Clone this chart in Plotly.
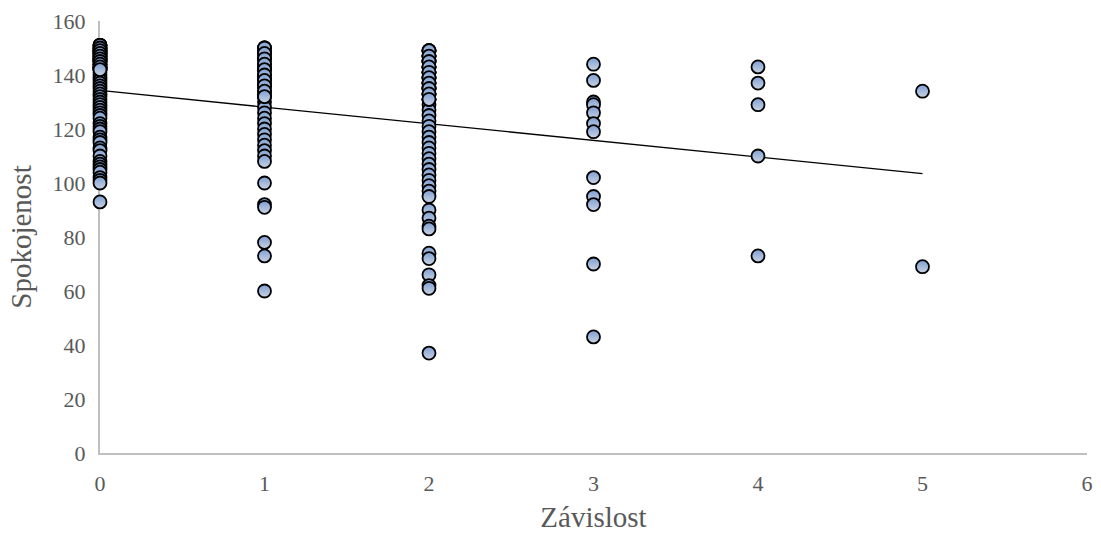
import numpy as np
import plotly.graph_objects as go

# Spokojenost scores for each Závislost level (repeated values overlap on the chart)
zavislost_0 = [151, 150, 149, 148, 147, 146, 145, 144, 143, 142, 141, 140, 139, 138, 137,
               136, 135, 134, 133, 132, 131, 130, 129, 128, 127, 126, 125, 124, 122, 121,
               120, 119, 117, 116, 115, 113, 112, 110, 108, 107, 106, 105, 104, 102, 101,
               100, 93,
               151, 150, 149, 148, 147, 146, 145, 144, 143, 142,
               151, 150, 149, 148, 147, 146, 145, 144, 143, 142,
               151, 150, 149, 148, 147, 146, 145, 144, 143, 142]
zavislost_1 = [150, 148, 146, 144, 142, 140, 138, 136, 134, 132, 130, 128, 126, 124, 122,
               120, 118, 116, 114, 112, 110, 108, 100, 92, 91, 78, 73, 60,
               150, 148, 146, 144, 142, 140, 138, 136, 134, 132,
               150, 148, 146, 144, 142, 140, 138, 136, 134, 132]
zavislost_2 = [149, 147, 145, 143, 141, 139, 137, 135, 133, 131, 129, 127, 125, 123, 121,
               119, 117, 115, 113, 111, 109, 107, 105, 103, 101, 99, 97, 95, 90, 87,
               84, 83, 74, 72, 66, 62, 61, 37,
               149, 147, 145, 143, 141, 139, 137, 135, 133, 131,
               149, 147, 145, 143, 141, 139, 137, 135, 133, 131,
               149, 147, 145, 143, 141, 139, 137, 135, 133, 131]
zavislost_3 = [144, 138, 130, 129, 126, 122, 119, 102, 95, 92, 70, 43]
zavislost_4 = [143, 137, 129, 110, 73]
zavislost_5 = [134, 69]

groups = [zavislost_0, zavislost_1, zavislost_2, zavislost_3, zavislost_4, zavislost_5]
x_vals = np.concatenate([[i] * len(g) for i, g in enumerate(groups)]).astype(float)
y_vals = np.concatenate(groups).astype(float)

# Linear trend line fitted to all observations
slope, intercept = np.polyfit(x_vals, y_vals, 1)
trend_x = np.array([0.0, 5.0])
trend_y = intercept + slope * trend_x

fig = go.Figure()
fig.add_trace(go.Scatter(
    x=trend_x, y=trend_y, mode="lines",
    line=dict(color="black", width=1.3),
    hoverinfo="skip", showlegend=False,
))
fig.add_trace(go.Scatter(
    x=x_vals, y=y_vals, mode="markers", cliponaxis=False,
    marker=dict(size=13, color="#7f9fd3",
                gradient=dict(type="vertical", color="#c9d3e3"),
                line=dict(color="black", width=1.8)),
    showlegend=False,
))

font_family = "Liberation Serif, Times New Roman, serif"
fig.update_layout(
    width=1101, height=533,
    margin=dict(l=100, r=14, t=21, b=80),
    plot_bgcolor="white", paper_bgcolor="white",
    font=dict(family=font_family, color="#595959", size=22),
    xaxis=dict(range=[0, 6], dtick=1, showgrid=False, zeroline=False, automargin=False,
               showline=True, linecolor="#bfbfbf", linewidth=2, layer="below traces",
               ticks="", ticklabelstandoff=10,
               title=dict(text="Závislost", font=dict(size=29, color="#595959"), standoff=14)),
    yaxis=dict(range=[0, 160], dtick=20, showgrid=False, zeroline=False, automargin=False,
               showline=True, linecolor="#bfbfbf", linewidth=2, layer="below traces",
               ticks="", ticklabelstandoff=8,
               title=dict(text="Spokojenost", font=dict(size=29, color="#595959"), standoff=12)),
)

fig.write_html("out.html")
